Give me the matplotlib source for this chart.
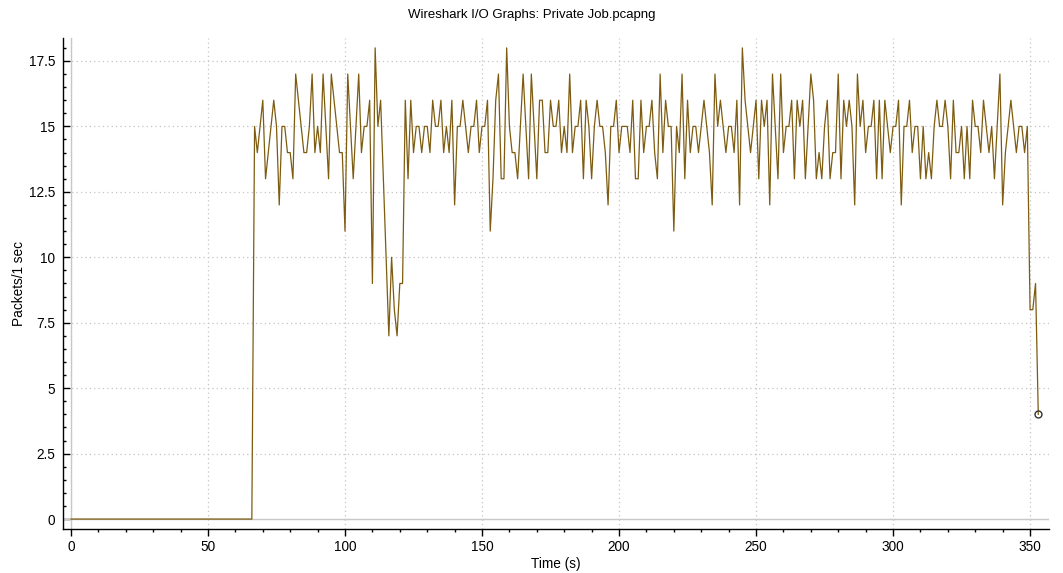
import numpy as np
import matplotlib
matplotlib.use("Agg")
import matplotlib.pyplot as plt
from matplotlib.ticker import MultipleLocator, FuncFormatter

plt.rcParams["font.family"] = ["Liberation Sans", "DejaVu Sans"]

title = "Wireshark I/O Graphs: Private Job.pcapng"
x_label = "Time (s)"
y_label = "Packets/1 sec"

# packets per 1 s interval, t = 0 .. 66 s (idle before the transfer)
idle = [0, 0, 0, 0, 0, 0, 0, 0, 0, 0,
        0, 0, 0, 0, 0, 0, 0, 0, 0, 0,
        0, 0, 0, 0, 0, 0, 0, 0, 0, 0,
        0, 0, 0, 0, 0, 0, 0, 0, 0, 0,
        0, 0, 0, 0, 0, 0, 0, 0, 0, 0,
        0, 0, 0, 0, 0, 0, 0, 0, 0, 0,
        0, 0, 0, 0, 0, 0, 0]

# t = 67 .. 349 s
transfer = [15, 14, 15,
            16, 13, 14, 15, 16, 15, 12, 15, 15, 14,
            14, 13, 17, 16, 15, 14, 14, 15, 17, 14,
            15, 14, 17, 15, 13, 17, 16, 15, 14, 14,
            11, 17, 15, 13, 15, 17, 14, 15, 15, 16,
            9, 18, 15, 16, 13, 10, 7, 10, 8, 7,
            9, 9, 16, 13, 16, 14, 15, 15, 14, 15,
            15, 14, 16, 15, 15, 16, 14, 15, 14, 16,
            12, 15, 15, 16, 15, 14, 15, 15, 16, 14,
            15, 15, 16, 11, 13, 16, 17, 13, 13, 18,
            15, 14, 14, 13, 15, 17, 15, 13, 17, 15,
            13, 16, 16, 14, 14, 16, 15, 15, 16, 14,
            15, 14, 17, 14, 15, 15, 16, 13, 16, 15,
            13, 15, 16, 15, 15, 14, 12, 15, 15, 16,
            14, 15, 15, 15, 14, 16, 13, 13, 16, 14,
            15, 15, 16, 14, 13, 17, 14, 16, 15, 15,
            11, 15, 14, 17, 13, 16, 14, 15, 15, 14,
            15, 16, 15, 14, 12, 17, 15, 16, 15, 14,
            15, 15, 14, 16, 12, 18, 16, 15, 14, 15,
            16, 13, 16, 15, 16, 12, 17, 15, 13, 17,
            14, 15, 15, 16, 13, 16, 15, 16, 13, 15,
            17, 16, 13, 14, 13, 15, 16, 13, 14, 14,
            17, 13, 16, 15, 16, 15, 12, 17, 15, 16,
            14, 15, 15, 16, 13, 16, 13, 16, 15, 14,
            15, 15, 16, 12, 15, 15, 16, 14, 15, 15,
            13, 15, 13, 14, 13, 15, 16, 15, 15, 16,
            15, 13, 16, 14, 14, 15, 13, 15, 13, 16,
            15, 15, 14, 16, 15, 14, 15, 13, 15, 17,
            12, 14, 15, 16, 15, 14, 15, 15, 14, 15]

# t = 350 .. 353 s
tail = [8, 8, 9, 4]

x_ticks = [0, 50, 100, 150, 200, 250, 300, 350]
y_ticks = [0, 2.5, 5, 7.5, 10, 12.5, 15, 17.5]

packets = np.array(idle + transfer + tail, dtype=float)
seconds = np.arange(len(packets))

line_color = "#7d5c10"
grid_color = "#c4c4c4"

fig = plt.figure(figsize=(10.63, 5.73), dpi=100)
ax = fig.add_axes([0.0593, 0.0768, 0.9275, 0.857])

# zero lines
ax.axhline(0, color="#c8c8c8", lw=1.0, zorder=1)
ax.axvline(0, color="#c8c8c8", lw=1.0, zorder=1)

ax.plot(seconds, packets, color=line_color, lw=0.9, zorder=3)
ax.plot(seconds[-1:], packets[-1:], "o", ms=5, mfc="none", mec="#333333",
        mew=1.0, zorder=4)

ax.set_xlim(-2.9, 356.9)
ax.set_ylim(-0.38, 18.38)

ax.set_xticks(x_ticks)
ax.set_yticks(y_ticks)
ax.xaxis.set_minor_locator(MultipleLocator(10))
ax.yaxis.set_minor_locator(MultipleLocator(0.5))
ax.yaxis.set_major_formatter(FuncFormatter(lambda v, p: f"{v:g}"))

ax.grid(True, which="major", color=grid_color, linestyle=(0, (1, 2.5)), lw=0.9)
ax.set_axisbelow(True)

for side in ["top", "right"]:
    ax.spines[side].set_visible(False)
for side in ["left", "bottom"]:
    ax.spines[side].set_color("black")
    ax.spines[side].set_linewidth(1.0)

ax.tick_params(axis="y", which="major", direction="in", length=5, width=1,
               labelsize=9.8, pad=5.5)
ax.tick_params(axis="y", which="minor", direction="in", length=2.5, width=1)
ax.tick_params(axis="x", which="major", direction="out", length=5, width=1,
               labelsize=9.8, pad=3)
ax.tick_params(axis="x", which="minor", direction="out", length=2.5, width=1)

ax.set_xlabel(x_label, fontsize=9.8, labelpad=2)
ax.set_ylabel(y_label, fontsize=9.8, labelpad=2)
fig.suptitle(title, fontsize=9.5, y=0.985)

fig.savefig("out.png", dpi=100)
